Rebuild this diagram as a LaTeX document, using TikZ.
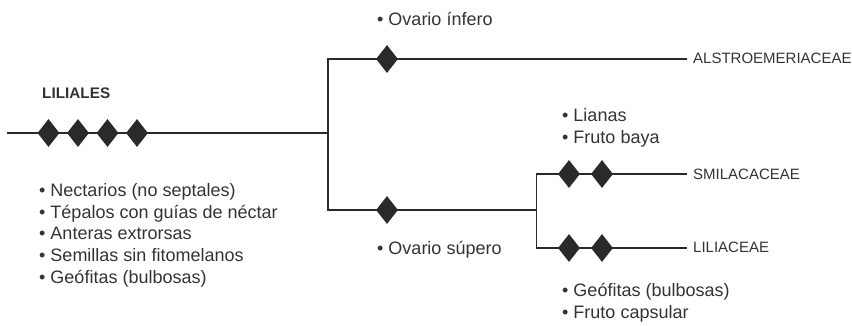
\documentclass[tikz,border=0pt]{standalone}
\usepackage{fontspec}
\setmainfont{Liberation Sans}
\usetikzlibrary{shapes.geometric}
\definecolor{ink}{HTML}{2A2A2A}
\definecolor{txt}{HTML}{333333}
\begin{document}
\begin{tikzpicture}[x=1pt,y=-1pt,
 branch/.style={draw=ink,line width=1.2pt,line join=miter},
 mk/.style={diamond,fill=ink,draw=none,inner sep=0pt,minimum width=22pt,minimum height=28pt},
 taxon/.style={anchor=base west,inner xsep=6pt,inner ysep=0pt,font=\fontsize{15}{18}\selectfont,text=txt},
 trait/.style={anchor=base west,inner sep=0pt,font=\fontsize{18}{21.7}\selectfont,text=txt},
 order/.style={anchor=base west,inner sep=0pt,font=\fontsize{15.3}{18}\selectfont\bfseries,text=txt}]
\useasboundingbox (0,0) rectangle (852,325);
% junctions
\coordinate (root) at (7,133);
\coordinate (j1) at (328,133);
\coordinate (ja) at (328,59);
\coordinate (jb) at (328,210);
\coordinate (j2) at (536.5,210);
\coordinate (jc) at (536.5,174);
\coordinate (jd) at (536.5,248);
% taxa
\node[taxon] (alst) at (687,63.3) {ALSTROEMERIACEAE};
\node[taxon] (smil) at (687,179) {SMILACACEAE};
\node[taxon] (lili) at (687,252.5) {LILIACEAE};
\node[order] (ord) at (42,98) {LILIALES};
% branches
\draw[branch] (root) -- (j1);
\draw[branch] (ja -| alst.west) -- (ja) -- (jb) -- (j2);
\draw[branch] (jc -| smil.west) -- (jc) -- (jd) -- (jd -| lili.west);
% character marks
\node[mk] (m1) at (48.5,133) {};
\node[mk] (m2) at (78,133) {};
\node[mk] (m3) at (107.5,133) {};
\node[mk] (m4) at (137,133) {};
\node[mk] (m5) at (387,59) {};
\node[mk] (m6) at (387,210) {};
\node[mk] (m7) at (569,174) {};
\node[mk] (m8) at (602,174) {};
\node[mk] (m9) at (569,248) {};
\node[mk] (m10) at (602,248) {};
% traits
\node[trait] (t1) at (39,196.5) {• Nectarios (no septales)};
\node[trait] (t2) at (39,218.2) {• Tépalos con guías de néctar};
\node[trait] (t3) at (39,239.9) {• Anteras extrorsas};
\node[trait] (t4) at (39,261.6) {• Semillas sin fitomelanos};
\node[trait] (t5) at (39,283.3) {• Geófitas (bulbosas)};
\node[trait] (t6) at (377,25) {• Ovario ínfero};
\node[trait] (t7) at (377,254.5) {• Ovario súpero};
\node[trait] (t8) at (562,121.7) {• Lianas};
\node[trait] (t9) at (562,143.3) {• Fruto baya};
\node[trait] (t10) at (562,296.7) {• Geófitas (bulbosas)};
\node[trait] (t11) at (562,318) {• Fruto capsular};
\end{tikzpicture}
\end{document}
